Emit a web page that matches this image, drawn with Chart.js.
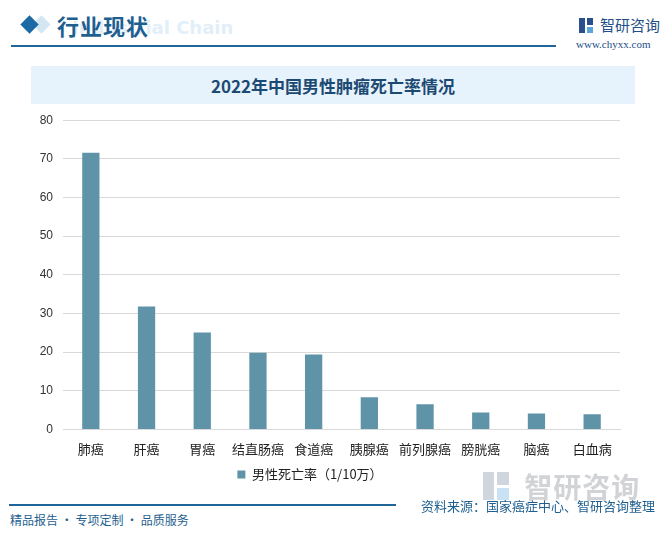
<!DOCTYPE html>
<html><head><meta charset="utf-8">
<script src="https://cdn.jsdelivr.net/npm/chart.js@4.4.0/dist/chart.umd.min.js"></script>
<style>
html,body{margin:0;padding:0;background:#fff;width:666px;height:537px;overflow:hidden;font-family:"Noto Sans CJK SC","Noto Sans",sans-serif;}
.abs{position:absolute;}
#wrap{position:relative;width:666px;height:537px;}
</style></head><body>
<div id="wrap">
  <div class="abs" style="left:35px;top:18px;width:13px;height:13px;background:#d3e6f3;transform:rotate(45deg);z-index:0;"></div>
  <div class="abs" style="left:23px;top:18px;width:13px;height:13px;background:#1b6aa5;transform:rotate(45deg);z-index:1;"></div>
  <div class="abs" style="left:72px;top:17px;font:bold 18px 'DejaVu Sans',sans-serif;color:#e2eff9;white-space:nowrap;">Industrial Chain</div>
  <div class="abs" style="left:57px;top:9px;font:bold 22px 'Noto Sans CJK SC';color:#1f5f8f;white-space:nowrap;letter-spacing:1px;">行业现状</div>
  <div class="abs" style="left:11px;top:45px;width:545px;height:2px;background:#1f6597;"></div>
  <div class="abs" style="left:579px;top:18px;width:14px;height:15px;">
    <div class="abs" style="left:0;top:0;width:6px;height:15px;background:#2a4f8c;"></div>
    <div class="abs" style="left:8px;top:0;width:6px;height:7px;background:#2a4f8c;"></div>
    <div class="abs" style="left:8px;top:9px;width:6px;height:6px;background:#5aa6dc;"></div>
  </div>
  <div class="abs" style="left:600px;top:14px;font:15px 'Noto Sans CJK SC';color:#244e86;white-space:nowrap;">智研咨询</div>
  <div class="abs" style="left:576px;top:38px;font:11px 'Liberation Serif',serif;color:#244e86;white-space:nowrap;">www.chyxx.com</div>
  <div class="abs" style="left:31px;top:66px;width:604px;height:38px;background:#e7f3fc;"></div>
  <div class="abs" style="left:31px;top:74px;width:604px;text-align:center;font:bold 17px 'Noto Sans CJK SC';color:#1d4a73;line-height:24px;">2022年中国男性肿瘤死亡率情况</div>
  <div class="abs" style="left:0;top:103px;width:640px;height:388px;"><canvas id="c" width="640" height="388"></canvas></div>
  <div class="abs" style="left:480px;top:466px;font:bold 28px 'Noto Sans CJK SC';color:#c7c9cc;opacity:0.8;white-space:nowrap;letter-spacing:1px;">&nbsp;&nbsp;&nbsp;&nbsp;&nbsp;&nbsp;智研咨询</div>
  <div class="abs" style="left:483px;top:472px;width:28px;height:28px;opacity:0.55;">
    <div class="abs" style="left:0;top:0;width:11px;height:28px;background:#a8b4c4;"></div>
    <div class="abs" style="left:14px;top:0;width:12px;height:13px;background:#a8b4c4;"></div>
    <div class="abs" style="left:14px;top:16px;width:12px;height:12px;background:#9cc8ec;"></div>
  </div>
  <div class="abs" style="left:9px;top:504px;width:387px;height:2px;background:#1f6597;"></div>
  <div class="abs" style="left:10px;top:511px;font:12px 'Noto Sans CJK SC';color:#1f5f8f;white-space:nowrap;">精品报告 · 专项定制 · 品质服务</div>
  <div class="abs" style="right:11px;top:496px;font:13px 'Noto Sans CJK SC';color:#1f5f8f;white-space:nowrap;">资料来源：国家癌症中心、智研咨询整理</div>
</div>
<script>
const categories = ["肺癌","肝癌","胃癌","结直肠癌","食道癌","胰腺癌","前列腺癌","膀胱癌","脑癌","白血病"];
const seriesName = "男性死亡率（1/10万）";
const maleMortality = [71.6, 31.8, 25.1, 19.8, 19.4, 8.3, 6.5, 4.4, 4.1, 3.9];
const yTicks = [0,10,20,30,40,50,60,70,80];

new Chart(document.getElementById('c'), {
  type: 'bar',
  data: { labels: categories, datasets: [{ label: seriesName, data: maleMortality, backgroundColor: '#5f93a8', barPercentage: 0.62, categoryPercentage: 0.5 }] },
  options: {
    responsive: false, animation: false,
    layout: { padding: { top: 6, right: 20, left: 0, bottom: 0 } },
    plugins: {
      tooltip: { enabled: false },
      legend: { position: 'bottom', labels: { boxWidth: 8, boxHeight: 8, padding: 7, color: '#222', font: { family: 'Noto Sans CJK SC', size: 13 } } }
    },
    scales: {
      x: { grid: { display: false }, border: { color: '#d9d9d9' },
           ticks: { color: '#222', font: { family: 'Noto Sans CJK SC', size: 13 }, maxRotation: 0, autoSkip: false, padding: 4 } },
      y: { min: 0, max: 80, afterFit: s => { s.width = 63; },
           afterBuildTicks: s => { s.ticks = yTicks.map(v => ({ value: v })); },
           grid: { color: '#d9d9d9', drawTicks: false }, border: { display: false },
           ticks: { color: '#333', font: { family: 'Liberation Sans', size: 12 }, padding: 10 } }
    }
  }
});
</script>
</body></html>
